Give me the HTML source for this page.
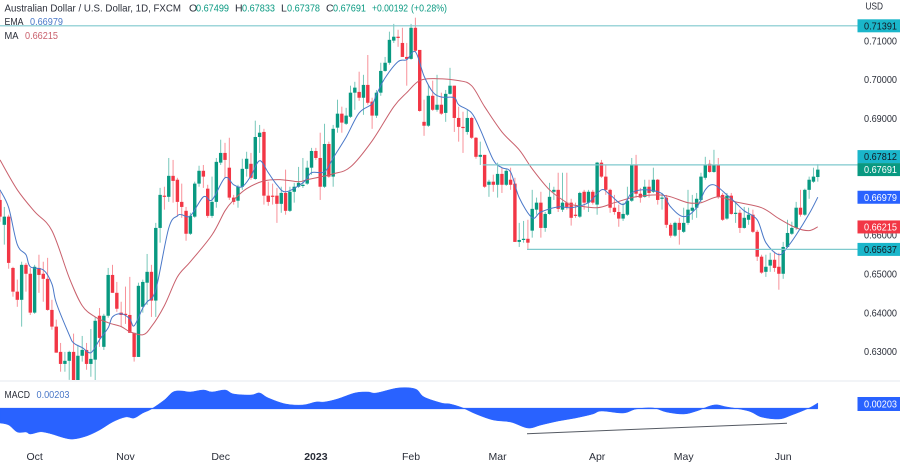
<!DOCTYPE html>
<html lang="en">
<head>
<meta charset="utf-8">
<title>AUD/USD daily chart</title>
<style>
html,body{margin:0;padding:0;background:#fff;width:900px;height:464px;overflow:hidden}
svg{display:block;font-family:"Liberation Sans",sans-serif;font-size:10.5px;filter:blur(0.25px)}
text{fill:#2a2e39}
</style>
</head>
<body>
<svg id="chart" width="900" height="464" viewBox="0 0 900 464" xmlns="http://www.w3.org/2000/svg">
  <defs><clipPath id="price-clip"><rect x="0" y="0" width="856" height="380"/></clipPath></defs>
  <rect x="0" y="0" width="900" height="464" fill="#ffffff"/>
  <g id="price-ticks"></g>
  <g id="candles" clip-path="url(#price-clip)"></g>
  <path id="ma-line" fill="none" stroke="#c9606c" stroke-width="1" clip-path="url(#price-clip)"/>
  <path id="ema-line" fill="none" stroke="#4a78c8" stroke-width="1" clip-path="url(#price-clip)"/>
  <g id="levels"></g>
  <line x1="0" y1="381" x2="900" y2="381" stroke="#e6e9ef" stroke-width="1"/>
  <path id="macd-area" fill="#2962ff" stroke="#2962ff" stroke-width="0.5"/>
  <line id="macd-zero" stroke="#2962ff" stroke-width="1.2"/>
  <line x1="527" y1="433.7" x2="787" y2="423.3" stroke="#555a63" stroke-width="1"/>

  <g>
    <text x="4.5" y="11.5" textLength="176.5" lengthAdjust="spacingAndGlyphs">Australian Dollar / U.S. Dollar, 1D, FXCM</text>
    <text x="189" y="11.5">O</text>
    <text x="196" y="11.5" textLength="33" lengthAdjust="spacingAndGlyphs" style="fill:#089981">0.67499</text>
    <text x="235" y="11.5">H</text>
    <text x="242" y="11.5" textLength="33" lengthAdjust="spacingAndGlyphs" style="fill:#089981">0.67833</text>
    <text x="281" y="11.5">L</text>
    <text x="287" y="11.5" textLength="33" lengthAdjust="spacingAndGlyphs" style="fill:#089981">0.67378</text>
    <text x="326" y="11.5">C</text>
    <text x="333" y="11.5" textLength="33" lengthAdjust="spacingAndGlyphs" style="fill:#089981">0.67691</text>
    <text x="372" y="11.5" textLength="36" lengthAdjust="spacingAndGlyphs" style="fill:#089981">+0.00192</text>
    <text x="411" y="11.5" textLength="36" lengthAdjust="spacingAndGlyphs" style="fill:#089981">(+0.28%)</text>
    <text x="4.5" y="25" textLength="19" lengthAdjust="spacingAndGlyphs">EMA</text>
    <text x="30" y="25" textLength="33" lengthAdjust="spacingAndGlyphs" style="fill:#4a78c8">0.66979</text>
    <text x="4.5" y="39" textLength="14" lengthAdjust="spacingAndGlyphs">MA</text>
    <text x="25" y="39" textLength="33" lengthAdjust="spacingAndGlyphs" style="fill:#c9606c">0.66215</text>
    <text x="4.5" y="398" textLength="25.5" lengthAdjust="spacingAndGlyphs">MACD</text>
    <text x="36.5" y="398" textLength="33" lengthAdjust="spacingAndGlyphs" style="fill:#4a78c8">0.00203</text>
  </g>
  <text x="865.5" y="9.5" textLength="17.5" lengthAdjust="spacingAndGlyphs">USD</text>
  <g id="price-tags"></g>
  <g id="macd-tag">
    <rect x="857.5" y="397" width="42.5" height="14" fill="#2962ff"/>
    <text x="864" y="407.5" textLength="33" lengthAdjust="spacingAndGlyphs" style="fill:#ffffff">0.00203</text>
  </g>
  <g id="time-axis"></g>
</svg>
<script>
// Prices are in units of 0.0001 (price x 10000). One entry per daily candle.
var open = [
6691,6627,6648,6516,6455,6434,6524,6501,6401,6516,
6501,6488,6408,6365,6300,6269,6277,6300,6215,6290,
6305,6269,6280,6393,6313,6393,6498,6452,6401,6398,
6395,6349,6287,6416,6478,6506,6432,6619,6702,6699,
6753,6743,6686,6663,6604,6648,6733,6766,6720,6650,
6686,6787,6812,6774,6697,6689,6725,6771,6784,6745,
6853,6866,6702,6702,6702,6681,6709,6663,6712,6725,
6727,6733,6774,6817,6799,6725,6835,6751,6877,6913,
6887,6905,6967,6969,6954,6987,6944,6908,6967,7023,
7044,7101,7111,7095,7059,7054,7134,7077,6892,6882,
6959,6923,6936,6915,6964,6985,6902,6879,6866,6902,
6851,6802,6807,6730,6738,6730,6758,6730,6743,6733,
6583,6588,6591,6612,6666,6684,6619,6655,6712,6717,
6666,6684,6684,6653,6648,6712,6684,6712,6679,6787,
6751,6717,6671,6660,6643,6653,6689,6781,6707,6699,
6725,6712,6743,6694,6697,6627,6599,6632,6609,6632,
6663,6671,6691,6748,6784,6763,6781,6704,6643,6702,
6655,6658,6619,6640,6653,6609,6545,6506,6522,6537,
6519,6501,6570,6604,6619,6671,6653,6717,6738,6750];
var high = [
6712,6673,6653,6519,6486,6532,6529,6516,6524,6550,
6532,6542,6434,6383,6323,6300,6303,6347,6318,6341,
6323,6359,6390,6413,6398,6516,6524,6480,6429,6468,
6493,6349,6478,6486,6552,6524,6632,6722,6725,6799,
6794,6748,6733,6673,6658,6738,6779,6781,6730,6751,
6799,6846,6838,6851,6704,6730,6797,6815,6812,6895,
6884,6874,6738,6733,6722,6725,6769,6725,6735,6776,
6799,6792,6825,6825,6864,6887,6841,6884,6949,6931,
6928,6985,6995,7021,7013,7064,6954,6974,7044,7059,
7124,7144,7129,7134,7095,7144,7160,7077,6949,6987,
6998,7013,6967,6974,7031,6985,6931,6918,6923,6905,
6853,6841,6807,6743,6756,6787,6774,6771,6774,6748,
6632,6637,6640,6717,6697,6712,6660,6735,6725,6761,
6761,6761,6694,6684,6712,6717,6717,6717,6789,6794,
6781,6720,6704,6679,6684,6725,6799,6807,6722,6743,
6743,6774,6745,6709,6704,6632,6635,6645,6671,6717,
6704,6709,6761,6802,6794,6820,6799,6709,6709,6709,
6684,6666,6673,6671,6666,6614,6550,6550,6555,6558,
6555,6583,6640,6635,6686,6717,6720,6751,6774,6783];
var low = [
6635,6576,6514,6442,6416,6365,6455,6395,6398,6452,
6429,6406,6357,6298,6249,6249,6228,6203,6203,6275,
6254,6236,6215,6313,6305,6388,6452,6403,6365,6372,
6349,6275,6287,6401,6421,6390,6390,6581,6666,6686,
6684,6648,6645,6586,6601,6645,6725,6722,6645,6645,
6671,6781,6748,6691,6679,6671,6717,6751,6743,6743,
6812,6679,6676,6679,6632,6658,6653,6660,6684,6722,
6722,6730,6756,6794,6691,6722,6748,6725,6864,6864,
6884,6902,6923,6946,6910,6936,6874,6902,6959,7021,
7039,7095,7085,7059,6985,7052,7072,6918,6856,6879,
6920,6918,6910,6892,6962,6866,6841,6812,6859,6848,
6797,6781,6722,6699,6712,6697,6709,6727,6717,6583,
6570,6581,6565,6594,6653,6594,6609,6653,6691,6660,
6660,6666,6625,6645,6645,6666,6660,6679,6653,6748,
6704,6658,6653,6622,6637,6650,6686,6697,6684,6697,
6697,6709,6679,6666,6619,6594,6596,6576,6606,6627,
6640,6645,6686,6743,6761,6761,6694,6637,6640,6653,
6632,6606,6617,6627,6606,6534,6501,6493,6506,6506,
6460,6488,6568,6601,6614,6648,6650,6694,6735,6738];
var close = [
6648,6648,6529,6455,6434,6524,6501,6401,6519,6498,
6488,6408,6365,6298,6269,6277,6300,6215,6290,6305,
6269,6282,6380,6336,6393,6498,6452,6411,6395,6395,
6349,6287,6470,6480,6506,6432,6619,6704,6699,6753,
6740,6686,6673,6604,6650,6733,6766,6751,6650,6686,
6789,6812,6794,6697,6686,6725,6771,6797,6748,6853,
6864,6702,6686,6699,6681,6709,6663,6712,6725,6735,
6730,6774,6817,6799,6725,6835,6751,6874,6913,6890,
6908,6967,6980,6954,6987,6941,6908,6967,7023,7044,
7103,7111,7108,7059,7054,7134,7075,6920,6882,6959,
6923,6936,6913,6964,6985,6902,6879,6877,6902,6851,
6802,6807,6725,6738,6730,6758,6730,6766,6730,6583,
6588,6591,6581,6668,6684,6619,6655,6699,6717,6668,
6684,6673,6645,6650,6709,6684,6712,6684,6787,6751,
6717,6671,6660,6643,6655,6689,6781,6707,6697,6725,
6709,6743,6691,6697,6627,6599,6632,6614,6632,6666,
6671,6694,6751,6781,6763,6781,6699,6640,6702,6655,
6658,6619,6645,6653,6609,6545,6504,6519,6537,6516,
6501,6570,6606,6619,6671,6653,6717,6743,6751,6769];

// Moving averages, read at sampled candle indexes.
var maBars = [0,4,8,12,16,19,22,25,28,30,33,35,38,41,44,49,52,54,57,61,65,69,71,77,81,86,91,94,97,101,106,109,112,116,120,123,127,131,132,138,142,147,152,155,159,162,166,170,176,180,184,187,189];
var maValues = [6794,6717,6661,6612,6491,6419,6390,6375,6365,6352,6344,6365,6419,6493,6532,6601,6663,6691,6720,6740,6743,6738,6743,6758,6776,6843,6931,6967,6998,7003,6998,6985,6931,6866,6820,6771,6717,6684,6679,6671,6684,6699,6704,6699,6684,6684,6699,6686,6671,6643,6619,6612,6622];
var emaBars = [0,2,4,6,7,10,12,13,16,17,19,21,23,25,26,28,30,31,33,34,36,39,41,42,44,47,49,52,54,56,58,60,62,64,66,70,72,75,77,80,83,86,87,89,92,94,96,98,100,102,105,106,109,111,114,116,118,120,123,125,129,132,136,139,141,144,146,149,153,155,158,161,163,165,168,170,172,175,177,180,182,184,187,189];
var emaValues = [6717,6671,6576,6550,6519,6511,6475,6426,6344,6323,6311,6298,6331,6362,6390,6398,6385,6367,6413,6429,6460,6619,6650,6653,6650,6699,6691,6748,6730,6725,6753,6792,6761,6730,6712,6735,6761,6763,6799,6853,6915,6938,6962,7005,7047,7052,7072,7010,6969,6956,6954,6936,6915,6872,6794,6774,6763,6697,6645,6660,6673,6671,6684,6717,6704,6679,6709,6717,6707,6673,6648,6671,6717,6730,6704,6684,6663,6640,6581,6550,6570,6601,6655,6698];

// MACD, in units of 0.00001, read at sampled candle indexes.
var macdBars = [0,2,4,6,7,9,10,12,15,17,20,23,26,29,31,33,35,38,40,42,44,47,49,52,54,58,60,62,66,70,73,75,78,82,85,87,92,96,98,102,104,107,110,114,118,122,125,129,133,137,139,144,147,151,154,158,161,165,168,173,176,180,183,187,189];
var macdValues = [-537,-610,-870,-870,-944,-870,-870,-944,-1092,-1129,-1018,-796,-500,-315,-352,-167,-19,315,611,648,611,685,611,685,537,500,574,389,167,130,241,241,352,574,611,574,759,722,426,204,167,19,-204,-426,-500,-722,-611,-463,-352,-204,-93,-167,-19,19,-130,-204,-93,130,56,-93,-315,-389,-241,19,203];

var priceTicks = [0.71,0.70,0.69,0.68,0.67,0.66,0.65,0.64,0.63];
var timeLabels = ["Oct","Nov","Dec","2023","Feb","Mar","Apr","May","Jun"];
var timeBars = [8,29,51,73,95,115,138,158,181];

var levelValues = [0.71391,0.67812,0.65637];
var levelStartBars = [0,111.6,121.8];
var tagValues = [0.71391,0.67812,0.67691,0.66979,0.66215,0.65637];
var tagKinds = ["level","level","last","ema","ma","level"];

var NS = "http://www.w3.org/2000/svg";
var GREEN = "#089981", RED = "#f23645", TEAL = "#7fc9cd";
var LAST_BAR = open.length - 1;
var TAG_HEIGHT = 13;

function xOf(bar){ return bar * 817.8 / LAST_BAR; }
function yOf(pips){ return 41 + (7100 - pips) * 0.3886; }
function yPrice(p){ return yOf(p * 10000); }
function yMacd(v){ return 408.5 - v / 37; }

function make(tag, attrs, parent){
  var el = document.createElementNS(NS, tag);
  for (var k in attrs) el.setAttribute(k, attrs[k]);
  parent.appendChild(el);
  return el;
}

// Smooth curve commands (Catmull-Rom) through pts, without the initial move.
function curveThrough(pts){
  var d = "";
  for (var i = 0; i < pts.length - 1; i++){
    var p0 = pts[Math.max(i - 1, 0)], p1 = pts[i], p2 = pts[i + 1], p3 = pts[Math.min(i + 2, pts.length - 1)];
    var c1x = p1[0] + (p2[0] - p0[0]) / 6, c1y = p1[1] + (p2[1] - p0[1]) / 6;
    var c2x = p2[0] - (p3[0] - p1[0]) / 6, c2y = p2[1] - (p3[1] - p1[1]) / 6;
    d += "C" + c1x.toFixed(1) + "," + c1y.toFixed(1) + " " + c2x.toFixed(1) + "," + c2y.toFixed(1) + " " + p2[0].toFixed(1) + "," + p2[1].toFixed(1);
  }
  return d;
}

// Price-axis tick labels
var tickGroup = document.getElementById("price-ticks");
priceTicks.forEach(function(p){
  var t = make("text", {x: 864, y: yPrice(p) + 3.3, textLength: 33, lengthAdjust: "spacingAndGlyphs"}, tickGroup);
  
  
  t.textContent = p.toFixed(5);
});

// Candles
var candleGroup = document.getElementById("candles");
open.forEach(function(o, i){
  var c = close[i], col = c >= o ? GREEN : RED, x = xOf(i);
  var wick = make("line", {x1: x, x2: x, y1: yOf(high[i]), y2: yOf(low[i]), stroke: col, "stroke-width": 1, "stroke-opacity": 0.55}, candleGroup);
  
  
  var top = yOf(Math.max(o, c)), bot = yOf(Math.min(o, c));
  var body = make("rect", {x: x - 1.7, y: top, width: 3.4, height: Math.max(bot - top, 1.2), fill: col}, candleGroup);
  
  
});

// Moving-average lines
function linePath(bars, vals){
  var pts = bars.map(function(b, i){ return [xOf(b), yOf(vals[i])]; });
  return "M" + pts[0][0].toFixed(1) + "," + pts[0][1].toFixed(1) + curveThrough(pts);
}
document.getElementById("ma-line").setAttribute("d", linePath(maBars, maValues));
document.getElementById("ema-line").setAttribute("d", linePath(emaBars, emaValues));

// Horizontal levels
var levelGroup = document.getElementById("levels");
levelValues.forEach(function(v, i){
  var y = yPrice(v);
  var ln = make("line", {x1: xOf(levelStartBars[i]), x2: 858, y1: y, y2: y, stroke: TEAL, "stroke-width": 1.2}, levelGroup);
  
  
});

// Price tags on the right axis; a tag colliding with the one below is pushed upward
var tagGroup = document.getElementById("price-tags");
var tagFill = {level: "#1ab6ca", last: "#089981", ema: "#2962ff", ma: "#f23645"};
var tagCenters = tagValues.map(yPrice);
for (var ti = tagCenters.length - 2; ti >= 0; ti--){
  if (tagCenters[ti + 1] - tagCenters[ti] < TAG_HEIGHT) tagCenters[ti] = tagCenters[ti + 1] - TAG_HEIGHT;
}
tagValues.forEach(function(v, i){
  var y = tagCenters[i], kind = tagKinds[i];
  var r = make("rect", {x: 857.5, y: y - TAG_HEIGHT / 2, width: 42.5, height: TAG_HEIGHT, fill: tagFill[kind]}, tagGroup);
  
  
  var t = make("text", {x: 864, y: y + 3.5, textLength: 33, lengthAdjust: "spacingAndGlyphs"}, tagGroup);
  
  
  t.style.fill = kind === "level" ? "#131722" : "#ffffff";
  t.textContent = v.toFixed(5);
});

// MACD area
var zeroY = yMacd(0);
var macdPts = macdBars.map(function(b, i){ return [xOf(b), yMacd(macdValues[i])]; });
var macdPath = "M" + macdPts[0][0].toFixed(1) + "," + zeroY + "L" + macdPts[0][0].toFixed(1) + "," + macdPts[0][1].toFixed(1);
macdPath += curveThrough(macdPts);
macdPath += "L" + macdPts[macdPts.length - 1][0].toFixed(1) + "," + zeroY + "Z";
document.getElementById("macd-area").setAttribute("d", macdPath);
var zero = document.getElementById("macd-zero");
zero.setAttribute("x1", 0);
zero.setAttribute("x2", xOf(LAST_BAR));
zero.setAttribute("y1", zeroY);
zero.setAttribute("y2", zeroY);

// Time axis
var timeGroup = document.getElementById("time-axis");
timeLabels.forEach(function(lab, i){
  var t = make("text", {x: xOf(timeBars[i]), y: 460, "text-anchor": "middle"}, timeGroup);
  
  
  if (lab === "2023") t.setAttribute("font-weight", "bold");
  t.textContent = lab;
});
</script>
</body>
</html>
